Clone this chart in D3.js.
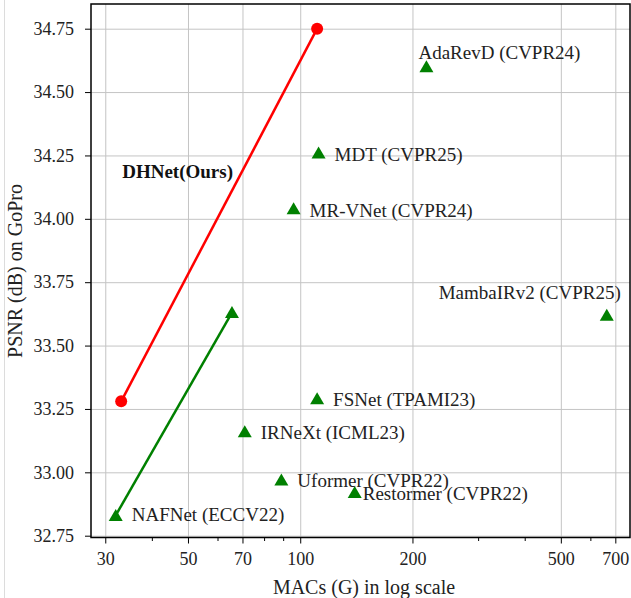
<!DOCTYPE html>
<html lang="en">
<head>
    <meta charset="UTF-8">
    <title>PSNR vs MACs on GoPro</title>
    <script src="https://cdnjs.cloudflare.com/ajax/libs/d3/7.8.5/d3.min.js"></script>
    <style>
        body { margin: 0; background: #fff; }
        svg text { font-family: "Liberation Serif", "Times New Roman", serif; fill: #222; }
        .grid line { stroke: #c4c4c4; stroke-width: 1; }
        .grid path { display: none; }
        .axis path, .axis line { stroke: #000; }
        .axis line { stroke-width: 1; }
        .tick-label text { font-size: 18px; }
    </style>
</head>
<body>
    <div id="chart"></div>

    <script>
        // Other methods (green triangles)
        const methods = ["AdaRevD (CVPR24)", "MDT (CVPR25)", "MR-VNet (CVPR24)", "MambaIRv2 (CVPR25)",
                         "FSNet (TPAMI23)", "IRNeXt (ICML23)", "Uformer (CVPR22)", "Restormer (CVPR22)"];
        const methodMacs = [218, 112, 96, 664, 111, 71, 89, 140];
        const methodPsnr = [34.60, 34.26, 34.04, 33.62, 33.29, 33.16, 32.97, 32.92];

        // NAFNet pair (green line)
        const nafnetName = "NAFNet (ECCV22)";
        const nafnetMacs = [32, 65.6];
        const nafnetPsnr = [32.83, 33.63];

        // Ours (red line)
        const dhnetName = "DHNet(Ours)";
        const dhnetMacs = [33.1, 111];
        const dhnetPsnr = [33.28, 34.75];

        // tick values
        const xMajorTicks = [30, 50, 70, 100, 200, 500, 700];
        const xMinorTicks = [40, 60, 80, 90, 300, 400, 600];
        const yTicks = [32.75, 33.00, 33.25, 33.50, 33.75, 34.00, 34.25, 34.50, 34.75];

        // label offsets in px from the marker: [dx, dy, anchor]
        const labelOffsets = [[-8, -8, "start"], [16, 8, "start"], [16, 8, "start"], [14, -16, "end"],
                              [16, 7, "start"], [16, 7, "start"], [16, 7, "start"], [8, 7, "start"]];

        const W = 631, H = 598;
        const margin = { left: 91, right: 1, top: 4, bottom: 60.5 };
        const width = W - margin.left - margin.right;
        const height = H - margin.top - margin.bottom;

        const svg = d3.select("#chart").append("svg")
            .attr("width", W)
            .attr("height", H);

        // faint frame line at the left of the picture
        svg.append("line")
            .attr("x1", 4.5).attr("x2", 4.5)
            .attr("y1", 0).attr("y2", H)
            .attr("stroke", "#dcdcdc");

        const g = svg.append("g")
            .attr("transform", `translate(${margin.left},${margin.top})`);

        const x = d3.scaleLog()
            .domain([27.47, 766.4])
            .range([0, width]);

        const y = d3.scaleLinear()
            .domain([32.7429, 34.8474])
            .range([height, 0]);

        // grid
        g.append("g")
            .attr("class", "grid")
            .attr("transform", `translate(0,${height})`)
            .call(d3.axisBottom(x).tickValues(xMajorTicks).tickSize(-height).tickFormat(""));

        g.append("g")
            .attr("class", "grid")
            .call(d3.axisLeft(y).tickValues(yTicks).tickSize(-width).tickFormat(""));

        // lines
        const line = d3.line()
            .x(d => x(d[0]))
            .y(d => y(d[1]));

        g.append("path")
            .datum(d3.zip(nafnetMacs, nafnetPsnr))
            .attr("d", line)
            .attr("fill", "none")
            .attr("stroke", "#008000")
            .attr("stroke-width", 2.5);

        g.append("path")
            .datum(d3.zip(dhnetMacs, dhnetPsnr))
            .attr("d", line)
            .attr("fill", "none")
            .attr("stroke", "#ff0000")
            .attr("stroke-width", 2.5);

        // markers
        const tri = "M0,-6.5L7,5.5L-7,5.5Z";
        const allGreen = d3.zip(methodMacs, methodPsnr).concat(d3.zip(nafnetMacs, nafnetPsnr));

        g.selectAll(".tri")
            .data(allGreen)
            .enter().append("path")
            .attr("class", "tri")
            .attr("d", tri)
            .attr("transform", d => `translate(${x(d[0])},${y(d[1])})`)
            .attr("fill", "#008000");

        g.selectAll(".dot")
            .data(d3.zip(dhnetMacs, dhnetPsnr))
            .enter().append("circle")
            .attr("class", "dot")
            .attr("cx", d => x(d[0]))
            .attr("cy", d => y(d[1]))
            .attr("r", 6)
            .attr("fill", "#ff0000");

        // method labels
        g.selectAll(".mlabel")
            .data(methods)
            .enter().append("text")
            .attr("class", "mlabel")
            .attr("x", (d, i) => x(methodMacs[i]) + labelOffsets[i][0])
            .attr("y", (d, i) => y(methodPsnr[i]) + labelOffsets[i][1])
            .attr("text-anchor", (d, i) => labelOffsets[i][2])
            .style("font-size", "19px")
            .text(d => d);

        g.append("text")
            .attr("x", x(nafnetMacs[0]) + 16)
            .attr("y", y(nafnetPsnr[0]) + 6)
            .style("font-size", "19px")
            .text(nafnetName);

        // our label sits in free space left of the red line
        g.append("text")
            .attr("x", x(33.3))
            .attr("y", y(34.161))
            .style("font-size", "19px")
            .style("font-weight", "bold")
            .style("fill", "#111")
            .text(dhnetName);

        // axes
        const xAxis = g.append("g")
            .attr("class", "axis tick-label")
            .attr("transform", `translate(0,${height})`)
            .call(d3.axisBottom(x).tickValues(xMajorTicks).tickSize(6).tickPadding(4).tickFormat(d3.format("d")));
        xAxis.select(".domain").remove();
        xAxis.selectAll("text").attr("dy", "0.95em");

        const xMinor = g.append("g")
            .attr("class", "axis")
            .attr("transform", `translate(0,${height})`)
            .call(d3.axisBottom(x).tickValues(xMinorTicks).tickSize(3.5).tickFormat(""));
        xMinor.select(".domain").remove();

        const yAxis = g.append("g")
            .attr("class", "axis tick-label")
            .call(d3.axisLeft(y).tickValues(yTicks).tickSize(6).tickPadding(11).tickFormat(d3.format(".2f")));
        yAxis.select(".domain").remove();

        // frame
        g.append("rect")
            .attr("width", width)
            .attr("height", height)
            .attr("fill", "none")
            .attr("stroke", "#000")
            .attr("stroke-width", 1.5);

        // axis titles
        svg.append("text")
            .attr("x", 364)
            .attr("y", 594)
            .attr("text-anchor", "middle")
            .style("font-size", "20px")
            .text("MACs (G) in log scale");

        svg.append("text")
            .attr("transform", "translate(22,271) rotate(-90)")
            .attr("text-anchor", "middle")
            .style("font-size", "20px")
            .text("PSNR (dB) on GoPro");
    </script>
</body>
</html>
